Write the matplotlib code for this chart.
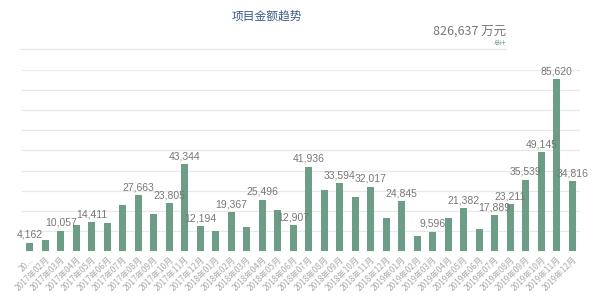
import matplotlib.pyplot as plt

months = [f"{y}年{m:02d}月" for y in (2017, 2018, 2019) for m in range(1, 13)]
values = [4162, 5300, 10057, 12900, 14411, 13800, 23000, 27663, 18200, 23805, 43344, 12194,
          9800, 19367, 12100, 25496, 20600, 12907, 41936, 30200, 33594, 26641, 32017, 16500,
          24845, 7300, 9596, 16500, 21382, 10800, 17889, 23211, 35539, 49145, 85620, 34816]
# bars whose value label is shown (others hidden, as in the original)
labeled = [0, 2, 4, 7, 9, 10, 11, 13, 15, 17, 18, 20, 22, 24, 26, 28, 30, 31, 32, 33, 34, 35]
title = "项目金额趋势"
unit = "万元"

cjk = ['Noto Sans CJK SC', 'DejaVu Sans']
num_font = ['Liberation Sans', 'DejaVu Sans']
bar_color = '#6d9d86'

fig = plt.figure(figsize=(6, 2.96), dpi=100)
ax = fig.add_axes([22 / 600, 1 - 251 / 296, 558 / 600, 181 / 296])

x = list(range(len(values)))
ax.bar(x, values, width=0.46, color=bar_color, zorder=3)
ax.set_xlim(-0.5, len(values) - 0.5)
ax.set_ylim(0, 90000)
ax.set_yticks(range(0, 90001, 10000))
ax.yaxis.grid(True, color='#e8e8e8', linewidth=0.9, zorder=0)
ax.tick_params(axis='y', left=False, labelleft=False)
ax.tick_params(axis='x', length=0, pad=3)
for s in ax.spines.values():
    s.set_visible(False)

ticklabels = months[:]
ticklabels[0] = "20..."
ax.set_xticks(x)
ax.set_xticklabels(ticklabels, rotation=45, ha='right', va='top', rotation_mode='anchor',
                   fontsize=6, color='#aaaaaa', family=cjk)

for i in labeled:
    ax.annotate(f"{values[i]:,}", (i, values[i]), xytext=(0, 2), textcoords='offset points',
                ha='center', va='bottom', fontsize=7.5, color='#777777', family=num_font)

fig.text(267 / 600, 1 - 16 / 296, title, ha='center', va='center', fontsize=8.5,
         color='#3d5a8a', family=cjk)
total = sum(values)
fig.text(506 / 600, 1 - 32 / 296, f"{total:,} {unit}", ha='right', va='center',
         fontsize=9, color='#777777', family=cjk)
fig.text(506 / 600, 1 - 43 / 296, "总计", ha='right', va='center', fontsize=4.5,
         color='#6d9d86', family=cjk)
fig.add_artist(plt.Line2D([20 / 600, 505 / 600], [1 - 48.5 / 296] * 2, color='#e8e8e8',
                          linewidth=0.9))

fig.savefig('out.png', dpi=100)
